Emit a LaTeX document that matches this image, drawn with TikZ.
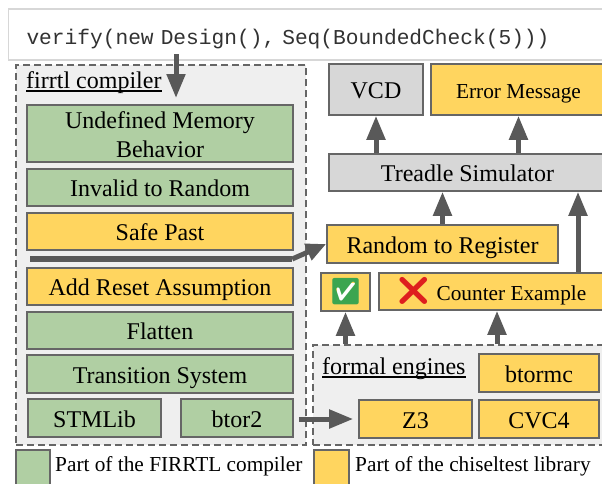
\documentclass[tikz,border=0pt]{standalone}
\usepackage{fontspec}
\setmainfont{Liberation Serif}
\setmonofont{Liberation Mono}
\newfontfamily\emojifont{Noto Emoji}
\usetikzlibrary{arrows.meta}
\definecolor{grn}{RGB}{176,207,163}
\definecolor{ylw}{RGB}{255,213,95}
\definecolor{gry}{RGB}{215,215,215}
\definecolor{dk}{RGB}{89,89,89}
\definecolor{edge}{RGB}{102,102,102}
\definecolor{panel}{RGB}{239,239,239}
\definecolor{okgreen}{RGB}{60,165,80}
\definecolor{nored}{RGB}{222,30,30}
\definecolor{codeink}{RGB}{50,50,50}
\tikzset{
  box/.style={draw=edge,line width=1.6pt,inner sep=0pt,font=\fontsize{24}{29}\selectfont,align=center,text height=21pt,text depth=3pt},
  gbox/.style={box,fill=grn},
  ybox/.style={box,fill=ylw},
  sbox/.style={box,fill=gry},
  smalltext/.style={font=\fontsize{21.3}{26}\selectfont},
  dashpanel/.style={draw=edge,line width=1.5pt,dash pattern=on 7pt off 4pt,fill=panel,inner sep=0pt},
  arr/.style={draw=dk,line width=5pt,-{Triangle[length=24pt,width=18pt]}},
  legendtext/.style={inner sep=0pt,font=\fontsize{21.3}{26}\selectfont,anchor=west},
  undertitle/.style={inner sep=0pt,font=\fontsize{24}{30}\selectfont,anchor=base west},
  uline/.style={draw=black,line width=2pt}
}
\newcommand{\bx}[7]{% style name x0 y0 x1 y1 text
  \pgfmathsetmacro{\bxw}{#5-#3}\pgfmathsetmacro{\bxh}{#6-#4}
  \pgfmathsetmacro{\bxx}{(#3+#5)/2}\pgfmathsetmacro{\bxy}{(#4+#6)/2}
  \node[#1,minimum width=\bxw pt,minimum height=\bxh pt] (#2) at (\bxx,\bxy) {#7};
}
\begin{document}
\begin{tikzpicture}[x=1pt,y=-1pt]
\useasboundingbox (0,0) rectangle (602,483);
\clip (0,0) rectangle (602,483);
\fill[white] (0,0) rectangle (602,483);
\node[draw=gry,line width=1.5pt,fill=white,text=codeink,inner xsep=18pt,inner ysep=0pt,minimum height=51pt,text width=567pt,align=left,font=\ttfamily\fontsize{21.2}{25}\selectfont,text height=20pt,text depth=0pt] (code) at (310,34.5) {verify(new Design(), Seq(BoundedCheck(5)))};
\bx{dashpanel}{fc}{16}{65}{306}{445}{}
\bx{dashpanel}{fe}{313}{345}{612}{445}{}
\node[undertitle] (fct) at (26,88) {firrtl compiler};
\draw[uline] ([yshift=-3pt]fct.base west) -- ([yshift=-3pt]fct.base east);
\node[undertitle] (fet) at (322,374) {formal engines};
\draw[uline] ([yshift=-3pt]fet.base west) -- ([yshift=-3pt]fet.base east);
\bx{gbox,text height=,text depth=}{um}{27}{105}{293}{162}{\rule{0pt}{19.5pt}Undefined Memory\\Behavior}
\bx{gbox}{itr}{27}{169}{293}{206}{Invalid to Random}
\bx{ybox}{sp}{27}{213}{293}{250}{Safe Past}
\node[fill=dk,inner sep=0pt,minimum width=262pt,minimum height=6.5pt] (bar) at (161,259) {};
\bx{ybox}{ara}{27}{268}{293}{305}{Add Reset Assumption}
\bx{gbox}{fl}{27}{312}{293}{349}{Flatten}
\bx{gbox}{ts}{27}{355}{293}{393}{Transition System}
\bx{gbox}{stm}{28}{399}{161}{437}{STMLib}
\bx{gbox}{btor}{181}{399}{293}{437}{btor2}
\bx{sbox}{vcd}{329}{64}{423}{115}{VCD}
\bx{ybox,smalltext}{err}{431}{64}{606}{115}{Error Message}
\bx{sbox}{tre}{329}{154}{606}{191}{Treadle Simulator}
\bx{ybox}{rtr}{327}{225}{558}{263}{Random to Register}
\bx{ybox,text height=,text depth=,path picture={\fill[white] ([xshift=-9pt,yshift=-9pt]path picture bounding box.center) rectangle ([xshift=9pt,yshift=9pt]path picture bounding box.center);}}{chk}{321}{273}{370}{311}{{\emojifont\fontsize{26}{26}\selectfont\textcolor{okgreen}{✅}}}
\bx{ybox,smalltext,text height=,text depth=}{cex}{379}{273}{603}{310}{{\emojifont\fontsize{28}{28}\selectfont\textcolor{nored}{❌}} Counter Example}
\bx{ybox}{bm}{479}{354}{599}{392}{btormc}
\bx{ybox}{zz}{359}{400}{472}{438}{Z3}
\bx{ybox}{cvc}{479}{400}{599}{438}{CVC4}
\bx{gbox,line width=1.5pt}{lg}{16}{450}{50}{486}{}
\bx{ybox,line width=1.5pt}{ly}{314}{450}{349}{486}{}
\node[legendtext] (lgt) at (55,466) {Part of the FIRRTL compiler};
\node[legendtext] (lyt) at (355,466) {Part of the chiseltest library};
\coordinate (in) at (176,54);
\coordinate (intip) at (176,98);
\draw[arr] (in) -- (intip);
\draw[arr] (vcd.south |- tre.north) -- (vcd.south);
\draw[arr] (err.south |- tre.north) -- (err.south);
\draw[arr] (rtr.north) -- (rtr.north |- tre.south);
\draw[arr] ([xshift=87pt]cex.north) -- ([xshift=87pt]cex.north |- tre.south);
\draw[arr] (chk.south |- fe.north) -- (chk.south);
\draw[arr] ([xshift=6pt]cex.south |- fe.north) -- ([xshift=6pt]cex.south);
\draw[arr,shorten <=5pt,shorten >=5pt] (btor.east |- zz.west) -- (zz.west);
\draw[arr,-{Triangle[length=20pt,width=17pt]}] (bar.east) -- (rtr.west);
\end{tikzpicture}
\end{document}
